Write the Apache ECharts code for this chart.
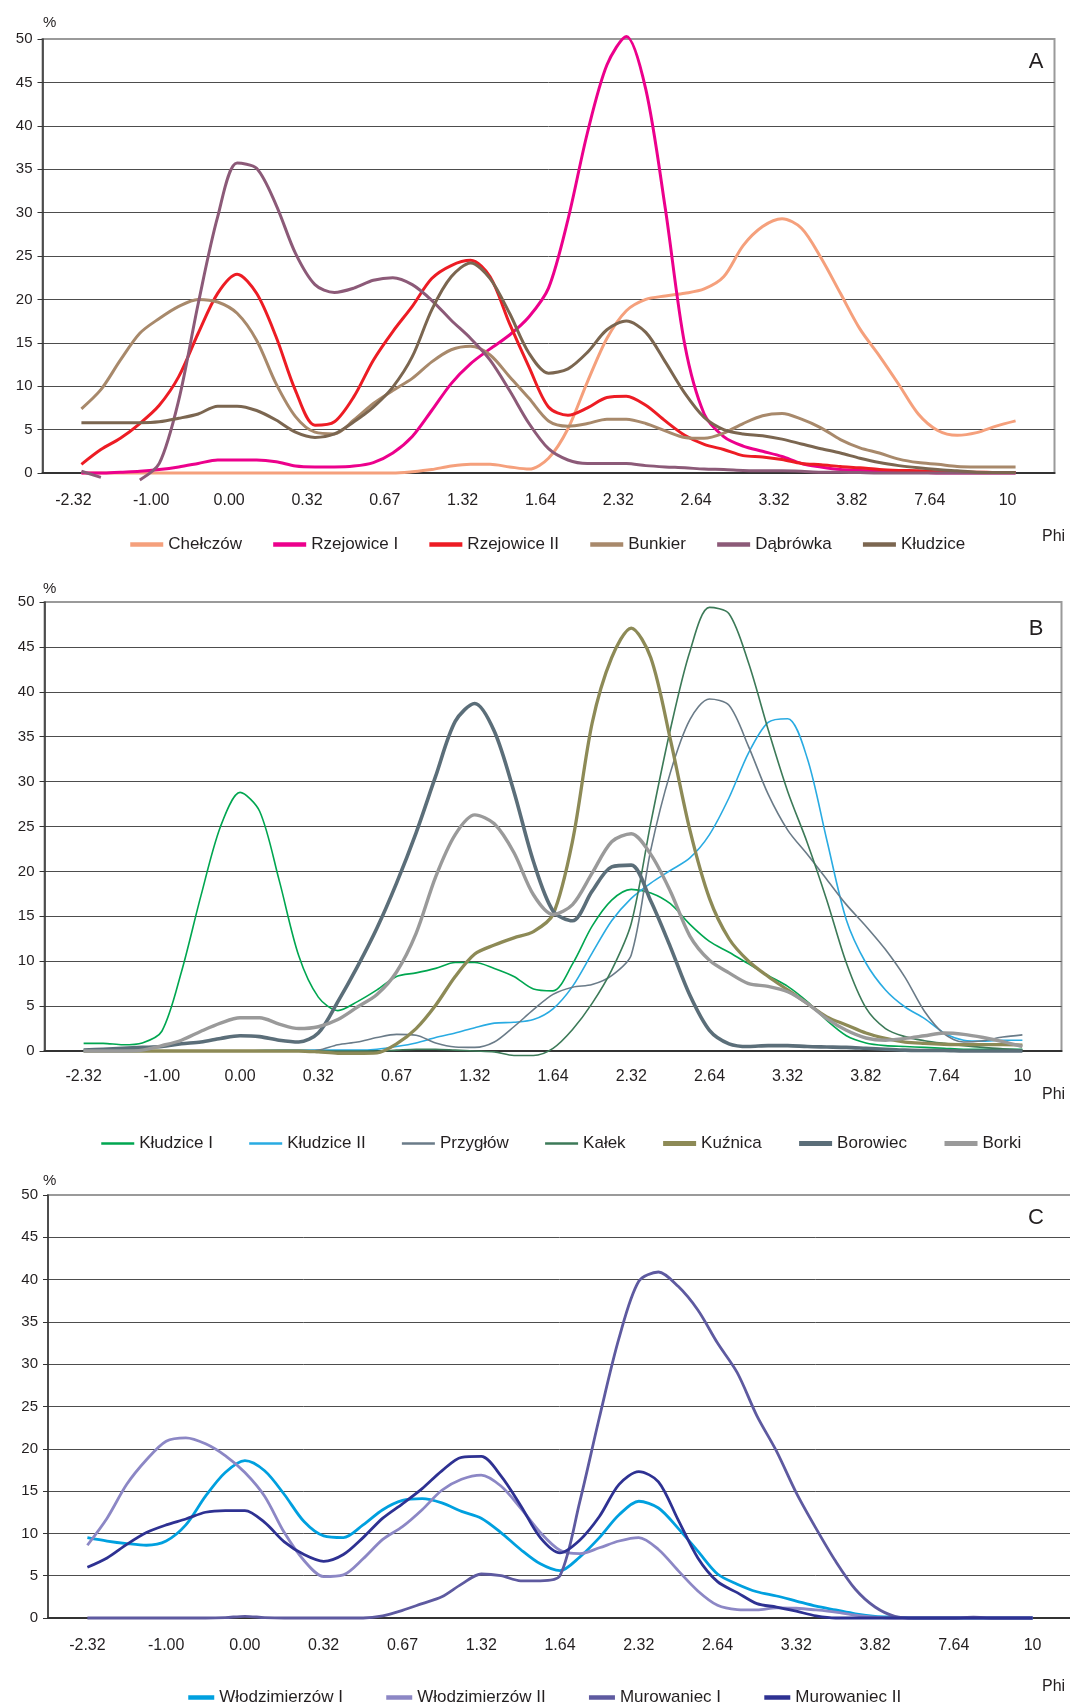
<!DOCTYPE html>
<html>
<head>
<meta charset="utf-8">
<script src="https://cdn.jsdelivr.net/npm/echarts@6/dist/echarts.min.js"></script>
<style>
html, body { margin: 0; padding: 0; background: #fff; }
#main { width: 1070px; height: 1706px; }
</style>
</head>
<body>
<div id="main"></div>
<script>
// phi classes on the x axis
var phiLabels = ['-2.32', '-1.00', '0.00', '0.32', '0.67', '1.32', '1.64', '2.32', '2.64', '3.32', '3.82', '7.64', '10'];
// every curve is read every quarter class: index 0 = -2.32 ... index 48 = 10
var step = 0.25;

// ---- A ----
var chelczow = [0, 0, 0, 0, 0, 0, 0, 0, 0, 0, 0, 0, 0, 0, 0, 0, 0,
  0.15, 0.4, 0.8, 1.0, 1.0, 0.7, 0.45, 1.7,
  5.1, 10.5, 15.5, 18.7, 20.0, 20.4, 20.7, 21.2, 22.6, 26.2, 28.4, 29.3, 28.2, 24.8, 20.7, 16.6,
  13.5, 10.2, 6.8, 4.9, 4.35, 4.65, 5.4, 6.0];
var rzejowice1 = [0, 0, 0.1, 0.2, 0.4, 0.7, 1.1, 1.5, 1.5, 1.5, 1.3, 0.8, 0.7, 0.7, 0.8, 1.2, 2.3,
  4.2, 7.2, 10.3, 12.6, 14.3, 15.9, 18, 21.3,
  29.2, 39.2, 47.0, 50.3, 44.2, 30.5, 14.8, 6.8, 4.2, 3.1, 2.5, 1.9, 1.1, 0.7, 0.4, 0.3,
  0.2, 0.1, 0.1, 0, 0, 0, 0, 0];
var rzejowice2 = [1.0, 2.7, 4.0, 5.7, 7.8, 11.1, 16.1, 20.7, 22.9, 20.7, 15.7, 9.5, 5.5, 5.9, 8.8, 13, 16.3,
  19.2, 22.4, 23.9, 24.5, 22.6, 17.2, 12.2, 7.6,
  6.65, 7.5, 8.7, 8.85, 7.8, 6.0, 4.35, 3.3, 2.7, 2.0, 1.85, 1.55, 1.1, 0.95, 0.75, 0.6,
  0.4, 0.3, 0.25, 0.15, 0.1, 0.1, 0.05, 0.05];
var bunkier = [7.4, 9.6, 13, 16.1, 17.8, 19.2, 20, 19.7, 18.4, 15.3, 10.3, 6.5, 4.7, 4.5, 6.1, 8.0, 9.5,
  10.9, 12.8, 14.2, 14.6, 13.6, 11.1, 8.6, 6.0,
  5.4, 5.7, 6.2, 6.2, 5.7, 4.85, 4.1, 4.0, 4.6, 5.7, 6.6, 6.85, 6.2, 5.2, 3.85, 2.9,
  2.3, 1.6, 1.2, 1.0, 0.75, 0.7, 0.7, 0.7];
var dabrowka = [0.2, -0.5, null, -0.8, 1.1, 8.4, 19.5, 29.5, 35.7, 35.1, 30.9, 25.3, 21.7, 20.8, 21.3, 22.2, 22.5,
  21.7, 19.9, 17.6, 15.5, 13, 9.5, 5.7, 2.8,
  1.5, 1.1, 1.1, 1.1, 0.85, 0.7, 0.6, 0.45, 0.4, 0.3, 0.25, 0.25, 0.2, 0.1, 0.1, 0.05,
  0, 0, 0, 0, 0, 0, 0, 0];
var kludzice = [5.8, 5.8, 5.8, 5.8, 5.9, 6.3, 6.8, 7.7, 7.7, 7.2, 6.1, 4.7, 4.1, 4.5, 5.9, 7.6, 9.9,
  13.4, 18.8, 22.6, 24.2, 22.4, 18.4, 13.8, 11.5,
  12.0, 13.9, 16.5, 17.5, 16.2, 12.8, 9.2, 6.4, 5.0, 4.5, 4.3, 3.9, 3.35, 2.8, 2.3, 1.7,
  1.2, 0.85, 0.6, 0.4, 0.25, 0.1, 0.05, 0.05];

// ---- B ----
var kludziceI = [0.85, 0.85, 0.7, 0.9, 2.2, 8.8, 17.3, 25, 28.8, 26.7, 19, 10.6, 6.0, 4.5, 5.5, 6.8, 8.3,
  8.7, 9.2, 9.85, 9.85, 9.2, 8.3, 6.9, 6.7,
  9.7, 13.9, 16.8, 18.0, 17.6, 16.4, 14.1, 12.2, 11.0, 9.7, 8.4, 7.2, 5.5, 3.4, 1.7, 0.9,
  0.6, 0.5, 0.4, 0.3, 0.2, 0.2, 0.2, 0.2];
var kludziceII = [0, 0, 0, 0, 0, 0, 0, 0, 0, 0.05, 0.1, 0.1, 0.1, 0.1, 0.1, 0.2, 0.5,
  0.9, 1.5, 2.0, 2.6, 3.1, 3.2, 3.5, 4.7,
  7.2, 10.9, 14.5, 17, 18.7, 20.1, 21.5, 24.1, 28.2, 33.2, 36.6, 37, 32.6, 23.5, 14.6, 9.8,
  6.8, 4.9, 3.6, 2.0, 1.2, 1.1, 1.2, 1.2];
var przyglow = [0, 0, 0, 0, 0, 0, 0, 0, 0, 0, 0, 0, 0.1, 0.7, 1.0, 1.5, 1.85,
  1.75, 0.9, 0.45, 0.4, 1.0, 2.7, 4.6, 6.3,
  7.1, 7.4, 8.4, 10.7, 22.4, 31, 36.9, 39.2, 38.5, 33.9, 28.6, 24.6, 21.9, 19.1, 16.3, 13.9,
  11.3, 8.2, 4.4, 1.9, 1.0, 1.15, 1.55, 1.8];
var kalek = [0, 0, 0, 0, 0, 0, 0, 0, 0, 0, 0, 0, 0, 0, 0, 0, 0.1,
  0.2, 0.2, 0.1, 0, -0.1, -0.5, -0.5, 0.3,
  2.4, 5.3, 9.0, 14.2, 25.4, 35.8, 44.5, 49.4, 48.7, 43.2, 35.8, 28.9, 23.2, 16.8, 9.8, 4.8,
  2.5, 1.6, 1.15, 0.85, 0.6, 0.4, 0.25, 0.1];
var kuznica = [0, 0, 0, 0, 0, 0, 0, 0, 0, 0, 0, 0, -0.1, -0.25, -0.25, -0.2, 0.8,
  2.5, 5.1, 8.3, 10.8, 11.8, 12.6, 13.3, 15.2,
  23.4, 36.5, 43.8, 47.1, 43.8, 34.7, 24.6, 17, 12.5, 10, 8.3, 6.8, 5.3, 3.8, 2.9, 2.0,
  1.4, 1.0, 0.85, 0.75, 0.7, 0.7, 0.7, 0.65];
var borowiec = [0.1, 0.2, 0.3, 0.4, 0.5, 0.8, 1.0, 1.4, 1.7, 1.6, 1.2, 1.0, 2.0, 5.5, 9.4, 13.7, 18.7,
  24.3, 30.6, 36.7, 38.7, 35.6, 28.9, 21.1, 15.6,
  14.5, 17.8, 20.5, 20.7, 16.7, 11.6, 6.2, 2.3, 0.8, 0.5, 0.6, 0.6, 0.5, 0.45, 0.4, 0.3,
  0.2, 0.1, 0.05, 0.05, 0, 0, 0, 0];
var borki = [0, 0, 0, 0.1, 0.6, 1.2, 2.2, 3.1, 3.7, 3.7, 3.0, 2.5, 2.7, 3.5, 4.9, 6.3, 8.8,
  13.1, 19.4, 24.1, 26.3, 25.3, 22.1, 17.4, 15.2,
  16.3, 19.8, 23.3, 24.2, 21.9, 17.8, 12.8, 10.1, 8.7, 7.5, 7.2, 6.6, 5.3, 3.6, 2.3, 1.45,
  1.2, 1.4, 1.7, 2.0, 1.85, 1.5, 1.05, 0.5];

// ---- C ----
var wlodzimierzowI = [9.5, 9.1, 8.8, 8.6, 9.1, 11, 14.4, 17.2, 18.6, 17.4, 14.6, 11.4, 9.7, 9.5, 11.0, 12.8, 13.9,
  14.1, 13.6, 12.6, 11.8, 10.1, 8.1, 6.4, 5.6,
  7.2, 9.5, 12.2, 13.8, 13.0, 10.6, 7.9, 5.2, 4.0, 3.1, 2.6, 2.0, 1.4, 0.95, 0.5, 0.2,
  0.1, 0, 0, 0, 0, 0, 0, 0];
var wlodzimierzowII = [8.6, 11.8, 15.8, 18.7, 20.9, 21.3, 20.6, 19.2, 17.2, 14.4, 10.1, 6.8, 4.9, 5.1, 7.0, 9.3, 10.8,
  12.8, 15.1, 16.4, 16.9, 15.6, 13, 10.1, 8.0,
  7.6, 8.3, 9.1, 9.5, 8.1, 5.6, 3.2, 1.5, 1.0, 0.95, 1.2, 1.15, 0.95, 0.7, 0.35, 0.1,
  0, 0, 0, 0, 0, 0, 0, 0];
var murowaniecI = [0, 0, 0, 0, 0, 0, 0, 0.05, 0.2, 0.05, 0, 0, 0, 0, 0, 0.25, 0.9,
  1.7, 2.5, 4.0, 5.2, 5.0, 4.4, 4.4, 5.0,
  13.7, 23.7, 33.1, 39.8, 40.9, 39.2, 36.4, 32.5, 29, 23.9, 19.7, 14.8, 10.6, 6.7, 3.4, 1.3,
  0.2, 0, 0, 0, 0.1, 0, 0, 0];
var murowaniecII = [6.0, 7.1, 8.7, 10.1, 11.0, 11.7, 12.5, 12.7, 12.7, 11.3, 9.0, 7.5, 6.7, 7.5, 9.5, 11.8, 13.5,
  15.3, 17.4, 19.0, 19.1, 16.8, 13.3, 9.5, 7.7,
  9.2, 12.0, 15.8, 17.3, 16.1, 11.6, 7.1, 4.3, 3.0, 1.7, 1.3, 0.8, 0.25, 0, 0, 0,
  0, 0, 0, 0, 0, 0, 0, 0];

var panels = [
  {
    grid: { left: 42.5, top: 39, width: 1012, height: 434 },
    labelMargin: 20, labelShift: 16,
    legend: { left: 128, top: 536, itemGap: 29, itemWidth: 33, iconWidth: 4.5 },
    series: [
      { name: 'Chełczów', data: chelczow, color: '#F5A07C', width: 3 },
      { name: 'Rzejowice I', data: rzejowice1, color: '#EC008C', width: 3 },
      { name: 'Rzejowice II', data: rzejowice2, color: '#ED1C24', width: 3 },
      { name: 'Bunkier', data: bunkier, color: '#A8896B', width: 3 },
      { name: 'Dąbrówka', data: dabrowka, color: '#8C5A78', width: 3 },
      { name: 'Kłudzice', data: kludzice, color: '#7B6650', width: 3 }
    ]
  },
  {
    grid: { left: 44.5, top: 602, width: 1017, height: 449 },
    labelMargin: 18, labelShift: 0,
    legend: { left: 100, top: 1135, itemGap: 35, itemWidth: 33 },
    series: [
      { name: 'Kłudzice I', data: kludziceI, color: '#00A650', width: 1.6, icon: 2.5 },
      { name: 'Kłudzice II', data: kludziceII, color: '#29ABE2', width: 1.6, icon: 2.5 },
      { name: 'Przygłów', data: przyglow, color: '#6A7B88', width: 1.6, icon: 2.5 },
      { name: 'Kałek', data: kalek, color: '#3C7A58', width: 1.6, icon: 2.5 },
      { name: 'Kuźnica', data: kuznica, color: '#8D8A56', width: 3.3, icon: 5 },
      { name: 'Borowiec', data: borowiec, color: '#5B6E79', width: 3.6, icon: 5 },
      { name: 'Borki', data: borki, color: '#9A9A9A', width: 3.4, icon: 5 }
    ]
  },
  {
    grid: { left: 48, top: 1195, width: 1024, height: 423 },
    labelMargin: 20, labelShift: 0,
    legend: { left: 186, top: 1689, itemGap: 41, itemWidth: 26, iconWidth: 4.5 },
    series: [
      { name: 'Włodzimierzów I', data: wlodzimierzowI, color: '#00A0DF', width: 2.8 },
      { name: 'Włodzimierzów II', data: wlodzimierzowII, color: '#8C87C5', width: 2.8 },
      { name: 'Murowaniec I', data: murowaniecI, color: '#5E5AA0', width: 2.8 },
      { name: 'Murowaniec II', data: murowaniecII, color: '#2E3192', width: 2.8 }
    ]
  }
];

function toPoints(arr) {
  var out = [];
  for (var k = 0; k < arr.length; k++) {
    out.push([k * step, arr[k] === null ? '-' : arr[k]]);
  }
  return out;
}

var font = 'Liberation Sans, Arial, sans-serif';
var textColor = '#231f20';
var grids = [], xAxes = [], yAxes = [], legends = [], series = [];

panels.forEach(function (p, g) {
  grids.push({
    left: p.grid.left, top: p.grid.top, width: p.grid.width, height: p.grid.height,
    containLabel: false, outerBoundsMode: 'none',
    show: true, borderColor: '#9a9a9a', borderWidth: 2, backgroundColor: 'transparent'
  });
  // visible class axis
  xAxes.push({
    type: 'category', gridIndex: g, data: phiLabels, boundaryGap: true,
    axisLine: { onZero: false, lineStyle: { color: '#333', width: 2 } },
    axisTick: { length: 6, lineStyle: { color: '#333', width: 1 } },
    axisLabel: { interval: 0, color: textColor, fontSize: 16, fontFamily: font, margin: p.labelMargin,
      padding: [0, p.labelShift, 0, 0] },
    splitLine: { show: false }
  });
  // hidden axis the curves are plotted on
  xAxes.push({ type: 'value', gridIndex: g, min: -0.5, max: 12.5, show: false });
  yAxes.push({
    type: 'value', gridIndex: g, min: 0, max: 50, interval: 5,
    axisLine: { show: true, onZero: false, lineStyle: { color: '#333', width: 1.5 } },
    axisTick: { show: true, length: 5, lineStyle: { color: '#333' } },
    axisLabel: { color: textColor, fontSize: 15, fontFamily: font, margin: 10 },
    splitLine: { show: true, lineStyle: {
      color: ['#333', '#4d4d4d', '#4d4d4d', '#4d4d4d', '#4d4d4d', '#4d4d4d', '#4d4d4d', '#4d4d4d', '#4d4d4d', '#4d4d4d', '#9a9a9a'],
      width: 1 } }
  });
  legends.push({
    left: p.legend.left, top: p.legend.top, orient: 'horizontal', padding: 0,
    itemWidth: p.legend.itemWidth, itemHeight: 14, itemGap: p.legend.itemGap,
    selectedMode: false,
    itemStyle: { opacity: 0 },
    textStyle: { fontSize: 17, color: textColor, fontFamily: font },
    data: p.series.map(function (s) {
      return { name: s.name, lineStyle: { width: s.icon || p.legend.iconWidth } };
    })
  });
  p.series.forEach(function (s) {
    series.push({
      type: 'line', name: s.name, xAxisIndex: 2 * g + 1, yAxisIndex: g,
      data: toPoints(s.data),
      symbol: 'none', showSymbol: false, smooth: 0.3, clip: false,
      lineStyle: { color: s.color, width: s.width },
      itemStyle: { color: s.color },
      emphasis: { disabled: true }
    });
  });
});

function label(text, x, y, size, align) {
  return {
    type: 'text', x: x, y: y, silent: true,
    style: { text: text, fontSize: size, fontFamily: font, fill: textColor, align: align || 'left', verticalAlign: 'middle' }
  };
}

var graphics = [
  label('%', 43, 22.5, 15),
  label('A', 1036, 62, 22, 'center'),
  label('Phi', 1042, 537, 16),
  label('%', 43, 589, 15),
  label('B', 1036, 629, 22, 'center'),
  label('Phi', 1042, 1095, 16),
  label('%', 43, 1181, 15),
  label('C', 1036, 1218, 22, 'center'),
  label('Phi', 1042, 1687, 16)
];

var myChart = echarts.init(document.getElementById('main'), null, { renderer: 'canvas' });
myChart.setOption({
  animation: false,
  backgroundColor: '#fff',
  textStyle: { fontFamily: font },
  grid: grids,
  xAxis: xAxes,
  yAxis: yAxes,
  legend: legends,
  tooltip: { show: false },
  graphic: graphics,
  series: series
});
</script>
</body>
</html>
